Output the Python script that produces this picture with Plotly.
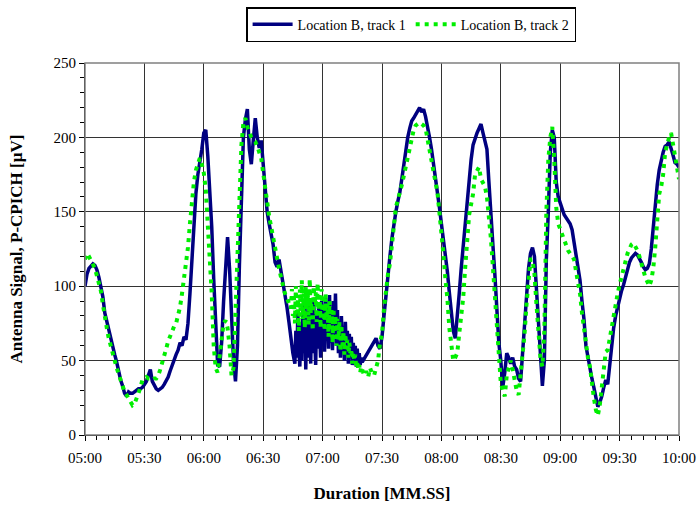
import plotly.graph_objects as go

# ---- data (seconds since start, values in µV) ----
# track 1: 1 s samples, denser 0.5 s samples in the noisy part, no data 441-446 s
track1_t = (list(range(300, 406))
            + [406 + 0.5 * k for k in range(69)]
            + list(range(447, 601)))
track1_v = [
    # 300-309
    100, 108, 112, 114, 115, 114, 111, 106, 100, 93,
    # 310-319
    82, 76, 70, 65, 59, 54, 49, 42, 37, 33,
    # 320-329
    28, 26, 29, 28, 28, 29, 30, 31, 31, 32,
    # 330-339
    34, 36, 40, 44, 36, 33, 31, 30, 31, 32,
    # 340-349
    34, 36, 39, 43, 47, 51, 54, 57, 62, 60,
    # 350-359
    66, 64, 75, 95, 120, 145, 162, 175, 182, 192,
    # 360-369
    203, 205, 188, 167, 140, 105, 72, 47, 46, 62,
    # 370-379
    90, 115, 133, 112, 80, 50, 36, 60, 115, 165,
    # 380-389
    200, 212, 219, 192, 182, 198, 213, 200, 193, 198,
    # 390-399
    180, 165, 150, 142, 134, 128, 116, 113, 118, 110,
    # 400-405
    104, 95, 86, 76, 65, 55,
    # 406-410.5 (0.5 s)
    48, 70, 52, 82, 58, 46, 75, 50, 85, 55,
    # 411-415.5
    88, 44, 80, 52, 92, 60, 48, 85, 55, 90,
    # 416-420.5
    62, 47, 82, 58, 88, 64, 52, 90, 60, 84,
    # 421-425.5
    56, 92, 66, 80, 58, 94, 62, 86, 57, 90,
    # 426-430.5
    68, 95, 60, 84, 55, 78, 52, 80, 58, 73,
    # 431-435.5
    50, 76, 55, 70, 48, 68, 52, 66, 47, 62,
    # 436-440
    50, 60, 46, 58, 48, 55, 47, 52, 49,
    # 447-456
    65, 60, 58, 66, 80, 95, 108, 120, 132, 142,
    # 457-466
    150, 157, 163, 172, 182, 192, 200, 206, 211, 213,
    # 467-476
    215, 218, 220, 217, 219, 214, 208, 200, 192, 183,
    # 477-486
    175, 165, 153, 142, 132, 122, 110, 96, 80, 70,
    # 487-496
    65, 78, 95, 112, 128, 142, 155, 170, 185, 195,
    # 497-506
    200, 203, 206, 209, 203, 198, 192, 170, 145, 128,
    # 507-516
    108, 80, 62, 50, 32, 42, 55, 52, 48, 52,
    # 517-526
    46, 44, 38, 36, 55, 75, 95, 112, 122, 126,
    # 527-536
    120, 100, 75, 52, 33, 50, 118, 150, 190, 205,
    # 537-546
    200, 170, 160, 156, 152, 148, 146, 144, 142, 138,
    # 547-556
    130, 122, 112, 104, 90, 78, 60, 52, 46, 38,
    # 557-566
    32, 25, 19, 22, 26, 32, 37, 34, 48, 60,
    # 567-576
    72, 80, 86, 92, 97, 101, 106, 112, 116, 119,
    # 577-586
    121, 122, 121, 119, 116, 113, 111, 112, 115, 125,
    # 587-596
    140, 157, 168, 178, 185, 190, 194, 195, 197, 193,
    # 597-600
    188, 183, 182, 180,
]

# track 2: 1 s samples, denser 0.5 s samples in the noisy part
track2_t = (list(range(300, 404))
            + [404 + 0.5 * k for k in range(73)]
            + list(range(441, 601)))
track2_v = [
    # 300-309
    118, 122, 120, 117, 115, 112, 107, 102, 97, 88,
    # 310-319
    78, 72, 65, 59, 55, 50, 45, 41, 37, 31,
    # 320-329
    29, 27, 25, 22, 20, 21, 24, 28, 32, 37,
    # 330-339
    38, 39, 38, 38, 37, 38, 38, 40, 44, 48,
    # 340-349
    54, 58, 63, 67, 70, 73, 75, 80, 86, 95,
    # 350-359
    105, 115, 126, 142, 158, 170, 178, 183, 186, 182,
    # 360-369
    176, 165, 145, 122, 95, 60, 45, 42, 53, 66,
    # 370-379
    75, 77, 72, 60, 40, 45, 80, 130, 165, 195,
    # 380-389
    210, 213, 207, 203, 200, 198, 197, 194, 190, 186,
    # 390-399
    176, 166, 154, 147, 140, 132, 125, 118, 112, 106,
    # 400-403
    100, 95, 92, 89,
    # 404-408.5 (0.5 s)
    85, 98, 80, 95, 75, 100, 82, 92, 70, 98,
    # 409-413.5
    80, 104, 78, 95, 72, 100, 85, 96, 74, 105,
    # 414-418.5
    82, 92, 70, 100, 88, 96, 76, 102, 84, 94,
    # 419-423.5
    72, 98, 80, 92, 70, 95, 78, 88, 66, 90,
    # 424-428.5
    74, 84, 62, 85, 70, 80, 60, 78, 64, 76,
    # 429-433.5
    56, 74, 60, 70, 54, 68, 58, 64, 52, 62,
    # 434-438.5
    55, 58, 48, 56, 50, 54, 45, 50, 44, 47,
    # 439-440
    42, 46, 44,
    # 441-449
    40, 43, 39, 45, 41, 40, 44, 50, 62,
    # 450-459
    68, 85, 100, 108, 115, 130, 145, 153, 158, 162,
    # 460-469
    168, 174, 180, 188, 194, 200, 205, 208, 209, 210,
    # 470-479
    209, 208, 206, 198, 190, 183, 176, 170, 163, 150,
    # 480-489
    138, 122, 105, 92, 72, 60, 50, 52, 55, 68,
    # 490-499
    80, 92, 112, 128, 148, 155, 162, 175, 178, 180,
    # 500-509
    172, 169, 167, 160, 148, 132, 113, 92, 73, 58,
    # 510-519
    35, 30, 26, 40, 46, 50, 44, 37, 30, 27,
    # 520-529
    40, 55, 68, 88, 106, 118, 118, 108, 88, 65,
    # 530-539
    52, 46, 70, 150, 185, 200, 207, 185, 153, 142,
    # 540-549
    138, 136, 130, 126, 124, 122, 120, 118, 110, 102,
    # 550-559
    95, 82, 70, 59, 52, 46, 33, 25, 17, 13,
    # 560-569
    20, 32, 46, 56, 57, 65, 72, 82, 90, 95,
    # 570-579
    101, 107, 112, 117, 122, 125, 128, 129, 127, 124,
    # 580-589
    120, 115, 110, 106, 103, 100, 104, 112, 126, 149,
    # 590-599
    162, 167, 175, 190, 196, 200, 203, 196, 188, 180,
    # 600
    172,
]

x_tick_vals = [300, 330, 360, 390, 420, 450, 480, 510, 540, 570, 600]
x_tick_labels = ["05:00", "05:30", "06:00", "06:30", "07:00", "07:30",
                 "08:00", "08:30", "09:00", "09:30", "10:00"]
y_tick_vals = [0, 50, 100, 150, 200, 250]

n1 = min(len(track1_t), len(track1_v))
n2 = min(len(track2_t), len(track2_v))

FONT = "Liberation Serif, Times New Roman, serif"

fig = go.Figure()
fig.add_trace(go.Scatter(
    x=track1_t[:n1], y=track1_v[:n1], mode="lines",
    name="Location B, track 1",
    line=dict(color="#000080", width=3.5),
))
fig.add_trace(go.Scatter(
    x=track2_t[:n2], y=track2_v[:n2], mode="lines",
    name="Location B, track 2",
    line=dict(color="#00EE00", width=4, dash="4px,5px"),
))

fig.update_layout(
    width=697, height=505,
    margin=dict(l=85, r=18, t=63, b=70, autoexpand=False),
    paper_bgcolor="white", plot_bgcolor="white",
    font=dict(family=FONT, size=15, color="black"),
    showlegend=True,
    legend=dict(
        orientation="h", x=0.549, xanchor="center", y=1.150, yanchor="top",
        bordercolor="black", borderwidth=1.5, bgcolor="white",
        font=dict(family=FONT, size=14, color="black"),
        itemwidth=40, tracegroupgap=0,
    ),
    xaxis=dict(
        range=[300, 600], tickmode="array", tickvals=x_tick_vals,
        ticktext=x_tick_labels, ticks="outside", ticklen=5,
        tickcolor="black", showline=True, linecolor="black", linewidth=1,
        showgrid=True, gridcolor="#333333", gridwidth=1, zeroline=False,
        automargin=False, ticklabelstandoff=4,
        minor=dict(tickmode="linear", tick0=300, dtick=6, ticks="outside",
                   ticklen=4, tickcolor="black", showgrid=False),
        title=dict(text="<b>Duration [MM.SS]</b>",
                   font=dict(family=FONT, size=17), standoff=22),
        tickfont=dict(family=FONT, size=15),
    ),
    yaxis=dict(
        range=[0, 250], tickmode="array", tickvals=y_tick_vals,
        ticks="outside", ticklen=5, tickcolor="black",
        showline=True, linecolor="black", linewidth=1,
        showgrid=True, gridcolor="#333333", gridwidth=1, zeroline=False,
        automargin=False,
        minor=dict(tickmode="linear", tick0=0, dtick=10, ticks="outside",
                   ticklen=4, tickcolor="black", showgrid=False),
        title=dict(text="<b>Antenna Signal, P-CPICH [µV]</b>",
                   font=dict(family=FONT, size=17), standoff=26),
        tickfont=dict(family=FONT, size=15),
    ),
)
fig.add_shape(type="rect", xref="paper", yref="paper", x0=0, y0=0, x1=1, y1=1,
              line=dict(color="#808080", width=1.5), layer="above")

# remove the page's default body margin so the 697x505 figure fills the window
fig.write_html(
    "out.html",
    config={"displayModeBar": False},
    post_script="document.body.style.margin='0';"
                "document.body.style.overflow='hidden';",
)
